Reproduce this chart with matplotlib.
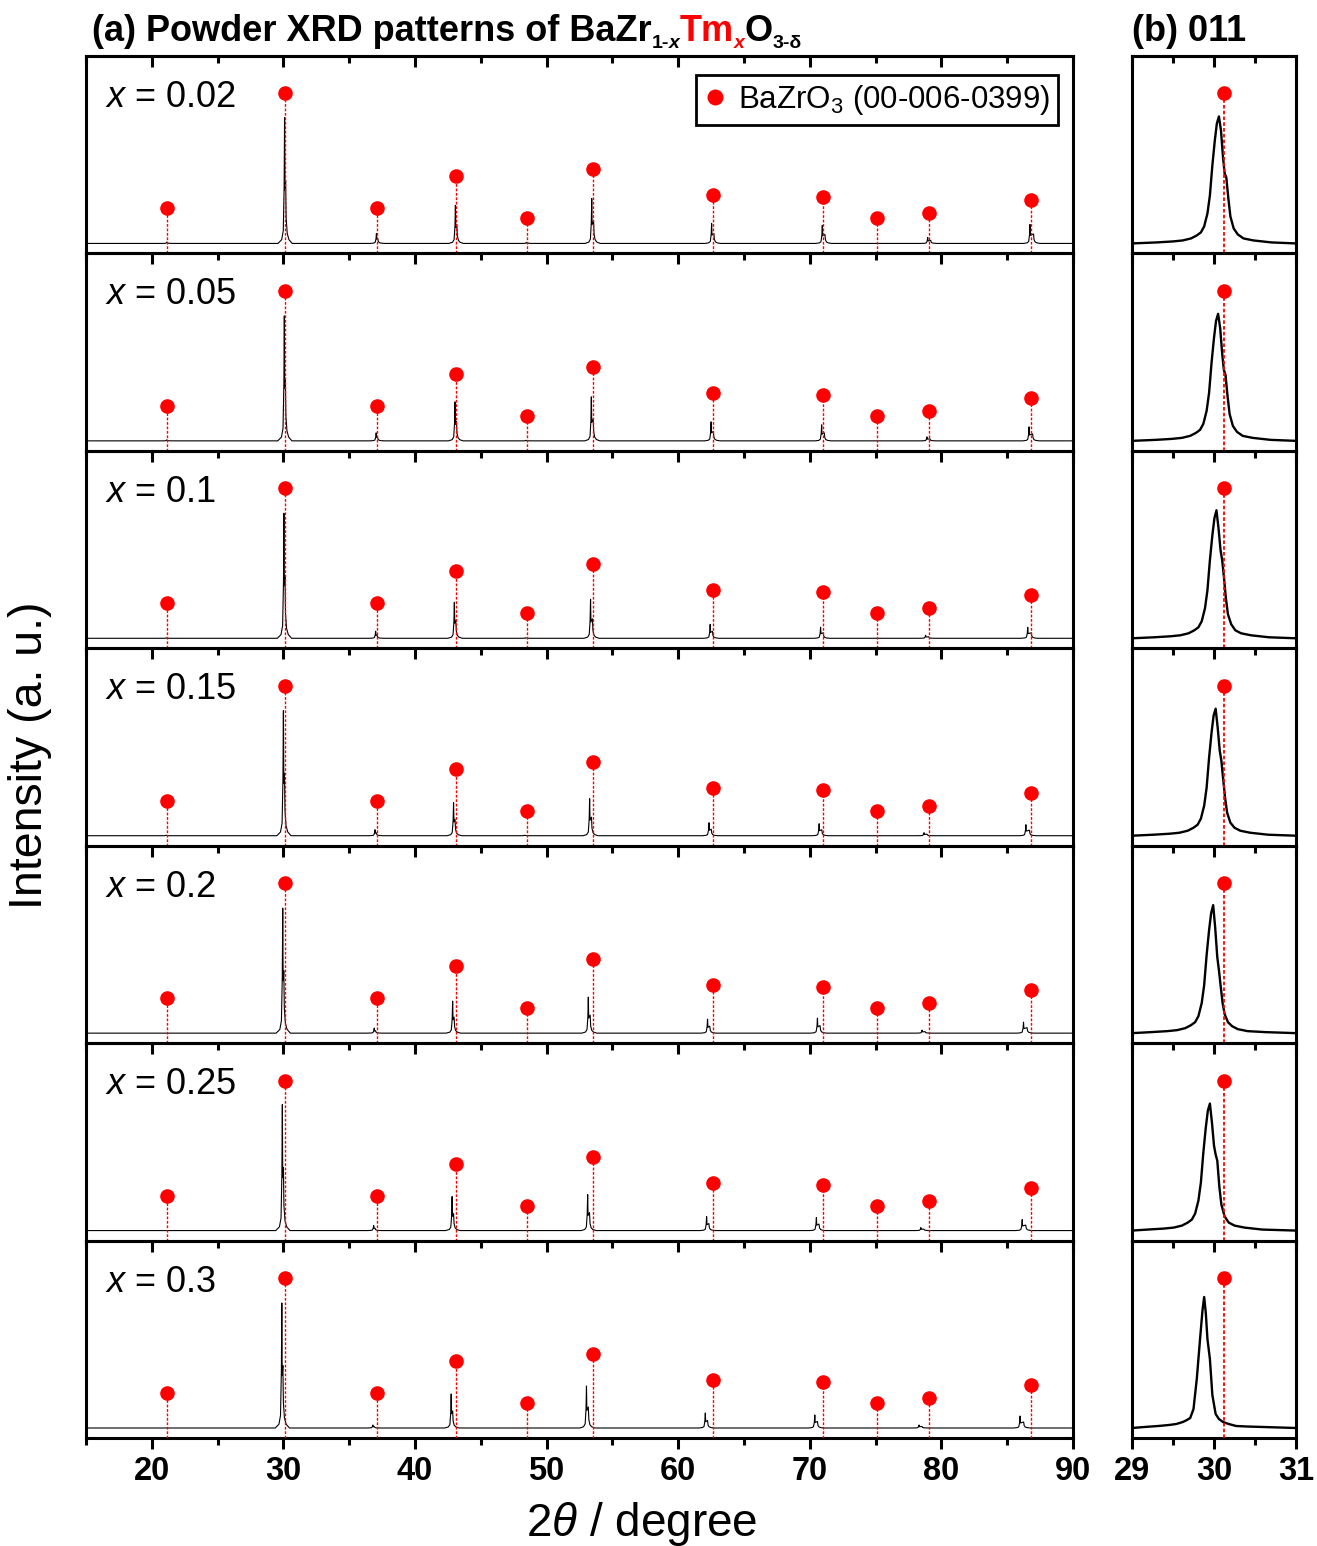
import matplotlib
matplotlib.use("Agg")
import matplotlib.pyplot as plt
from matplotlib.ticker import MultipleLocator
from matplotlib.lines import Line2D

plt.rcParams['font.family'] = ['Liberation Sans', 'DejaVu Sans']
plt.rcParams['mathtext.fontset'] = 'custom'
plt.rcParams['mathtext.rm'] = 'Liberation Sans'
plt.rcParams['mathtext.it'] = 'Liberation Sans:italic'
plt.rcParams['mathtext.bf'] = 'Liberation Sans:bold'

# ---------------- data ----------------
compositions = ["0.02", "0.05", "0.1", "0.15", "0.2", "0.25", "0.3"]

# BaZrO3 reference (00-006-0399): 2theta and plotted marker height (a.u.)
ref_2theta = [21.17, 30.12, 37.11, 43.11, 48.51, 53.49, 62.61, 71.03, 75.08, 79.05, 86.84]
ref_height = [35, 150, 35, 67, 25, 74, 48, 46, 25, 30, 43]

# observed reflections (100,110,111,200,210,211,220,310,222,321)
kalpha2_split = [0.05, 0.08, 0.10, 0.11, 0.13, 0.14, 0.17, 0.20, 0.23, 0.27]

peak_pos_002 = [21.15, 30.09, 37.07, 43.07, 48.46, 53.43, 62.54, 70.95, 78.96, 86.73]
peak_pos_005 = [21.14, 30.07, 37.05, 43.04, 48.43, 53.40, 62.50, 70.90, 78.90, 86.66]
peak_pos_010 = [21.11, 30.04, 37.01, 42.99, 48.38, 53.34, 62.43, 70.82, 78.80, 86.56]
peak_pos_015 = [21.09, 30.00, 36.96, 42.93, 48.31, 53.27, 62.34, 70.71, 78.68, 86.42]
peak_pos_020 = [21.05, 29.95, 36.90, 42.86, 48.22, 53.17, 62.23, 70.58, 78.53, 86.24]
peak_pos_025 = [21.03, 29.92, 36.86, 42.82, 48.17, 53.12, 62.16, 70.50, 78.44, 86.14]
peak_pos_030 = [21.00, 29.88, 36.80, 42.75, 48.10, 53.03, 62.06, 70.38, 78.30, 85.98]

peak_int_002 = [1.5, 126, 10, 38, 1.0, 45, 20, 18, 6, 19]
peak_int_005 = [1.0, 125, 8, 39, 0.5, 44, 19, 16, 4, 14]
peak_int_010 = [0.5, 125, 7, 36, 0.5, 39, 14, 11, 3, 11]
peak_int_015 = [0.5, 125, 6, 33, 0.5, 37, 13, 12, 3, 11]
peak_int_020 = [0.0, 125, 5, 32, 0.0, 36, 14, 15, 3, 11]
peak_int_025 = [0.0, 126, 5, 34, 0.0, 36, 14, 13, 3, 11]
peak_int_030 = [0.0, 125, 3, 34, 0.0, 42, 15, 13, 3, 12]

peak_pos = [peak_pos_002, peak_pos_005, peak_pos_010, peak_pos_015,
            peak_pos_020, peak_pos_025, peak_pos_030]
peak_int = [peak_int_002, peak_int_005, peak_int_010, peak_int_015,
            peak_int_020, peak_int_025, peak_int_030]

# panel (b): 011 reflection, read point by point
b_tth_002 = [29.00, 29.30, 29.50, 29.62, 29.72, 29.79, 29.84, 29.88, 29.92, 29.95, 29.98, 30.01, 30.035, 30.06, 30.085, 30.11, 30.13, 30.15, 30.175, 30.20, 30.24, 30.29, 30.36, 30.48, 30.70, 31.00]
b_int_002 = [0, 1, 2, 3, 5, 8, 11, 17, 30, 48, 78, 103, 120, 127, 113, 86, 70, 66, 45, 27, 15, 9, 5, 3, 1, 0]
b_tth_005 = [29.00, 29.29, 29.49, 29.61, 29.71, 29.78, 29.83, 29.87, 29.91, 29.94, 29.97, 30.00, 30.025, 30.05, 30.075, 30.10, 30.12, 30.14, 30.165, 30.19, 30.23, 30.28, 30.35, 30.47, 30.69, 31.00]
b_int_005 = [0, 1, 2, 3, 5, 8, 11, 17, 30, 48, 78, 103, 120, 127, 113, 87, 71, 66, 45, 27, 15, 9, 5, 3, 1, 0]
b_tth_010 = [29.00, 29.27, 29.47, 29.59, 29.69, 29.76, 29.81, 29.85, 29.89, 29.92, 29.95, 29.98, 30.005, 30.03, 30.055, 30.08, 30.10, 30.12, 30.145, 30.17, 30.21, 30.26, 30.33, 30.45, 30.67, 31.00]
b_int_010 = [0, 1, 2, 3, 5, 8, 11, 17, 30, 48, 78, 103, 120, 128, 110, 88, 78, 62, 40, 24, 14, 8, 5, 3, 1, 0]
b_tth_015 = [29.00, 29.26, 29.46, 29.58, 29.68, 29.75, 29.80, 29.84, 29.88, 29.91, 29.94, 29.97, 29.995, 30.02, 30.045, 30.07, 30.09, 30.11, 30.135, 30.16, 30.20, 30.25, 30.32, 30.44, 30.66, 31.00]
b_int_015 = [0, 1, 2, 3, 5, 8, 11, 17, 30, 48, 78, 103, 120, 127, 108, 85, 75, 58, 38, 23, 13, 8, 5, 3, 1, 0]
b_tth_020 = [29.00, 29.23, 29.43, 29.55, 29.65, 29.72, 29.77, 29.81, 29.85, 29.88, 29.91, 29.94, 29.965, 29.99, 30.015, 30.04, 30.06, 30.08, 30.105, 30.13, 30.17, 30.22, 30.29, 30.41, 30.63, 31.00]
b_int_020 = [0, 1, 2, 3, 5, 8, 11, 17, 30, 48, 78, 103, 120, 128, 105, 76, 63, 48, 30, 19, 11, 7, 4, 2, 1, 0]
b_tth_025 = [29.00, 29.19, 29.39, 29.51, 29.61, 29.68, 29.73, 29.77, 29.81, 29.84, 29.87, 29.90, 29.925, 29.95, 29.975, 30.00, 30.02, 30.04, 30.065, 30.09, 30.13, 30.18, 30.25, 30.37, 30.59, 31.00]
b_int_025 = [0, 1, 2, 3, 5, 8, 11, 17, 30, 48, 78, 103, 120, 127, 108, 85, 76, 70, 44, 26, 14, 8, 5, 3, 1, 0]
b_tth_030 = [29.00, 29.15, 29.32, 29.45, 29.54, 29.62, 29.67, 29.71, 29.75, 29.79, 29.83, 29.86, 29.88, 29.90, 29.92, 29.95, 29.98, 30.02, 30.06, 30.11, 30.18, 30.27, 30.40, 30.60, 31.00]
b_int_030 = [0, 1, 2, 3, 4, 6, 8, 10, 19, 49, 89, 118, 131, 115, 89, 69, 33, 14, 9, 6, 4, 2, 1.5, 1, 0]

b_tth = [b_tth_002, b_tth_005, b_tth_010, b_tth_015, b_tth_020, b_tth_025, b_tth_030]
b_int = [b_int_002, b_int_005, b_int_010, b_int_015, b_int_020, b_int_025, b_int_030]

xticks_a = [20, 30, 40, 50, 60, 70, 80, 90]
xticks_b = [29, 30, 31]

# ---------------- figure ----------------
W, H = 1317, 1546
fig = plt.figure(figsize=(W / 100, H / 100), dpi=100)


def fx(px):
    return px / W


def fy(py):
    return 1 - py / H


RED = '#ff0000'
top_px, bot_px = 56, 1438
ph = (bot_px - top_px) / 7
YLIM = (-10, ph - 10)


# peak profile (shape of one reflection incl. K-alpha2 shoulder)
def peak_curve(pos_list, int_list):
    xs, ys = [15.0], [0.0]
    for p, h, k in zip(pos_list, int_list, kalpha2_split):
        offs = [-0.5, -0.22, -0.1, -0.035, 0.0, 0.03, k, k + 0.04, k + 0.12, k + 0.25, k + 0.5]
        frac = [0, 0.03, 0.1, 0.45, 1.0, 0.42, 0.5, 0.2, 0.08, 0.03, 0]
        xs += [p + o for o in offs]
        ys += [h * f for f in frac]
    xs.append(90.0)
    ys.append(0.0)
    return xs, ys


def style_axis(ax, minor, last, ticks, xlim):
    ax.patch.set_visible(False)
    for s in ax.spines.values():
        s.set_linewidth(2.2)
    ax.set_xlim(*xlim)
    ax.set_ylim(*YLIM)
    ax.set_yticks([])
    ax.xaxis.set_minor_locator(MultipleLocator(minor))
    if last:
        ax.set_xticks(ticks, [str(t) for t in ticks], fontweight='bold')
    else:
        ax.set_xticks(ticks)
    ax.tick_params(axis='x', which='major', direction='out', length=8, width=2.2,
                   labelsize=23.5, pad=5, labelbottom=last, top=False)
    ax.tick_params(axis='x', which='minor', direction='out', length=5, width=2.2, top=False)


for i, comp in enumerate(compositions):
    y_bottom = fy(top_px + (i + 1) * ph)
    axL = fig.add_axes([fx(86), y_bottom, fx(1073) - fx(86), ph / H])
    axR = fig.add_axes([fx(1132), y_bottom, fx(1296) - fx(1132), ph / H])
    last = (i == 6)
    style_axis(axL, 5, last, xticks_a, (15, 90))
    style_axis(axR, 0.5, last, xticks_b, (29, 31))

    xs, ys = peak_curve(peak_pos[i], peak_int[i])
    axL.plot(xs, ys, color='black', lw=0.8, zorder=2)
    axL.vlines(ref_2theta, YLIM[0], ref_height, colors=RED, linestyles=(0, (2, 1.2)), lw=1.0, zorder=3)
    axL.plot(ref_2theta, ref_height, 'o', color=RED, ms=10.5, mec='none', zorder=4)
    axL.text(0.019, 0.742, r'$x$ = ' + comp, transform=axL.transAxes, fontsize=26, va='baseline')

    axR.plot(b_tth[i], b_int[i], color='black', lw=1.7, zorder=2, solid_joinstyle='round')
    ref_b = [t for t in ref_2theta if 29 <= t <= 31]
    ref_bh = [h for t, h in zip(ref_2theta, ref_height) if 29 <= t <= 31]
    axR.vlines(ref_b, YLIM[0], ref_bh, colors=RED, linestyles=(0, (2, 1.2)), lw=1.3, zorder=3)
    axR.plot(ref_b, ref_bh, 'o', color=RED, ms=10.5, mec='none', zorder=4)

    if i == 0:
        for ax, minor, ticks in ((axL, 5, xticks_a), (axR, 0.5, xticks_b)):
            sec = ax.secondary_xaxis('top')
            sec.set_xticks(ticks)
            sec.xaxis.set_minor_locator(MultipleLocator(minor))
            sec.tick_params(axis='x', which='major', direction='in', length=8, width=2.2, labeltop=False)
            sec.tick_params(axis='x', which='minor', direction='in', length=5, width=2.2)
            sec.spines['top'].set_linewidth(2.2)
        handle = Line2D([], [], marker='o', ls='', color=RED, ms=11.5, mec='none')
        leg = axL.legend([handle], ['BaZrO$_3$ (00-006-0399)'], loc='upper right',
                         bbox_to_anchor=(0.985, 0.904), borderaxespad=0, frameon=True,
                         fancybox=False, edgecolor='black', framealpha=1, fontsize=22.5,
                         handlelength=0.7, handletextpad=0.4, borderpad=0.25)
        leg.get_frame().set_linewidth(2.0)

# ---------------- texts ----------------
renderer = fig.canvas.get_renderer()


def rich(x_px, y_px, pieces):
    x = x_px
    for s, size, color, style, dy in pieces:
        t = fig.text(fx(x), fy(y_px + dy), s, fontsize=size, fontweight='bold',
                     fontstyle=style, color=color, va='baseline', ha='left')
        x += t.get_window_extent(renderer).width


rich(92, 41, [
    ("(a) Powder XRD patterns of BaZr", 26, 'black', 'normal', 0),
    ("1-", 14, 'black', 'normal', 7),
    ("x", 14, 'black', 'italic', 7),
    ("Tm", 26, RED, 'normal', 0),
    ("x", 14, RED, 'italic', 7),
    ("O", 26, 'black', 'normal', 0),
    ("3-δ", 14, 'black', 'normal', 7),
])
fig.text(fx(1132), fy(41), "(b) 011", fontsize=26, fontweight='bold', va='baseline', ha='left')

fig.text(fx(30), fy(755), 'Intensity (a. u.)', rotation=90, fontsize=33.5, ha='center', va='center')
fig.text(fx(642), fy(1536), r'2$\theta$ / degree', fontsize=33, ha='center', va='baseline')

fig.savefig("out.png", dpi=100)
